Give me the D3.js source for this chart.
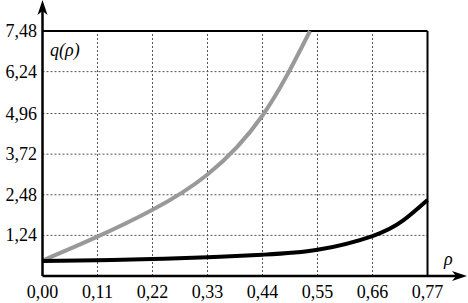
<!DOCTYPE html>
<html>
<head>
<meta charset="utf-8">
<script src="https://cdn.jsdelivr.net/npm/d3@7"></script>
<style>
  body { margin: 0; background: #fff; }
</style>
</head>
<body>
<script>
// tick values
const xTicks = [0, 0.11, 0.22, 0.33, 0.44, 0.55, 0.66, 0.77]
const yTicks = [0, 1.24, 2.48, 3.72, 4.96, 6.24, 7.48]
const yTickLabels = ["", "1,24", "2,48", "3,72", "4,96", "6,24", "7,48"]

// gray curve
const grayRho = [0, 0.11, 0.22, 0.33, 0.44, 0.535]
const grayQ = [0.47, 1.2, 2.02, 3.1, 4.9, 7.48]

// black curve
const blackRho = [0, 0.11, 0.22, 0.33, 0.44, 0.55, 0.66, 0.72, 0.77]
const blackQ = [0.46, 0.48, 0.52, 0.57, 0.65, 0.8, 1.22, 1.68, 2.32]

const W = 468, H = 303
const FONT = "'Liberation Serif', 'Times New Roman', Times, serif"

const svg = d3.select('body').append('svg')
    .attr('width', W)
    .attr('height', H)
    .style('font-family', FONT)

const x = d3.scaleLinear().domain([0, 0.77]).range([42.5, 427.5])
const y = d3.scaleLinear().domain([0, 7.48]).range([276, 31])

// grid
svg.append('g')
    .selectAll('line')
    .data(xTicks.slice(1, -1))
    .enter().append('line')
    .attr('x1', d => x(d)).attr('x2', d => x(d))
    .attr('y1', y(0)).attr('y2', y(7.48))
    .attr('stroke', '#555')
    .attr('stroke-width', 1)
    .attr('stroke-dasharray', '2,2')

svg.append('g')
    .selectAll('line')
    .data(yTicks.slice(1, -1))
    .enter().append('line')
    .attr('x1', x(0)).attr('x2', x(0.77))
    .attr('y1', d => y(d)).attr('y2', d => y(d))
    .attr('stroke', '#555')
    .attr('stroke-width', 1)
    .attr('stroke-dasharray', '2,2')

// top and right border
svg.append('line')
    .attr('x1', x(0)).attr('x2', x(0.77))
    .attr('y1', y(7.48)).attr('y2', y(7.48))
    .attr('stroke', '#000').attr('stroke-width', 2)
svg.append('line')
    .attr('x1', x(0.77)).attr('x2', x(0.77))
    .attr('y1', y(7.48)).attr('y2', y(0))
    .attr('stroke', '#000').attr('stroke-width', 2)

// curves
const line = d3.line()
    .x(d => x(d[0]))
    .y(d => y(d[1]))
    .curve(d3.curveNatural)

svg.append('path')
    .datum(grayRho.map((r, i) => [r, grayQ[i]]))
    .attr('d', line)
    .attr('fill', 'none')
    .attr('stroke', '#999')
    .attr('stroke-width', 4)

svg.append('path')
    .datum(blackRho.map((r, i) => [r, blackQ[i]]))
    .attr('d', line)
    .attr('fill', 'none')
    .attr('stroke', '#000')
    .attr('stroke-width', 4)

// axes with arrows
svg.append('line')
    .attr('x1', x(0)).attr('x2', x(0))
    .attr('y1', y(0)).attr('y2', 8)
    .attr('stroke', '#000').attr('stroke-width', 2.5)
svg.append('path')
    .attr('d', `M${x(0)},0 L${x(0) - 5},15 L${x(0)},11 L${x(0) + 5},15 Z`)
    .attr('fill', '#000')

svg.append('line')
    .attr('x1', x(0)).attr('x2', 460)
    .attr('y1', y(0)).attr('y2', y(0))
    .attr('stroke', '#000').attr('stroke-width', 2.5)
svg.append('path')
    .attr('d', `M467,${y(0)} L452,${y(0) - 5} L456,${y(0)} L452,${y(0) + 5} Z`)
    .attr('fill', '#000')

// tick labels
svg.append('g')
    .selectAll('text')
    .data(yTicks)
    .enter().append('text')
    .attr('x', 37)
    .attr('y', d => y(d) + 6)
    .attr('text-anchor', 'end')
    .attr('font-size', 18)
    .text((d, i) => yTickLabels[i])

svg.append('g')
    .selectAll('text')
    .data(xTicks)
    .enter().append('text')
    .attr('x', d => x(d))
    .attr('y', 298)
    .attr('text-anchor', 'middle')
    .attr('font-size', 18)
    .text(d => d3.format('.2f')(d).replace('.', ','))

// axis titles
svg.append('text')
    .attr('x', 50).attr('y', 56)
    .attr('font-size', 18)
    .attr('font-style', 'italic')
    .text('q(ρ)')

svg.append('text')
    .attr('x', 444).attr('y', 265)
    .attr('font-size', 18)
    .attr('font-style', 'italic')
    .text('ρ')
</script>
</body>
</html>
